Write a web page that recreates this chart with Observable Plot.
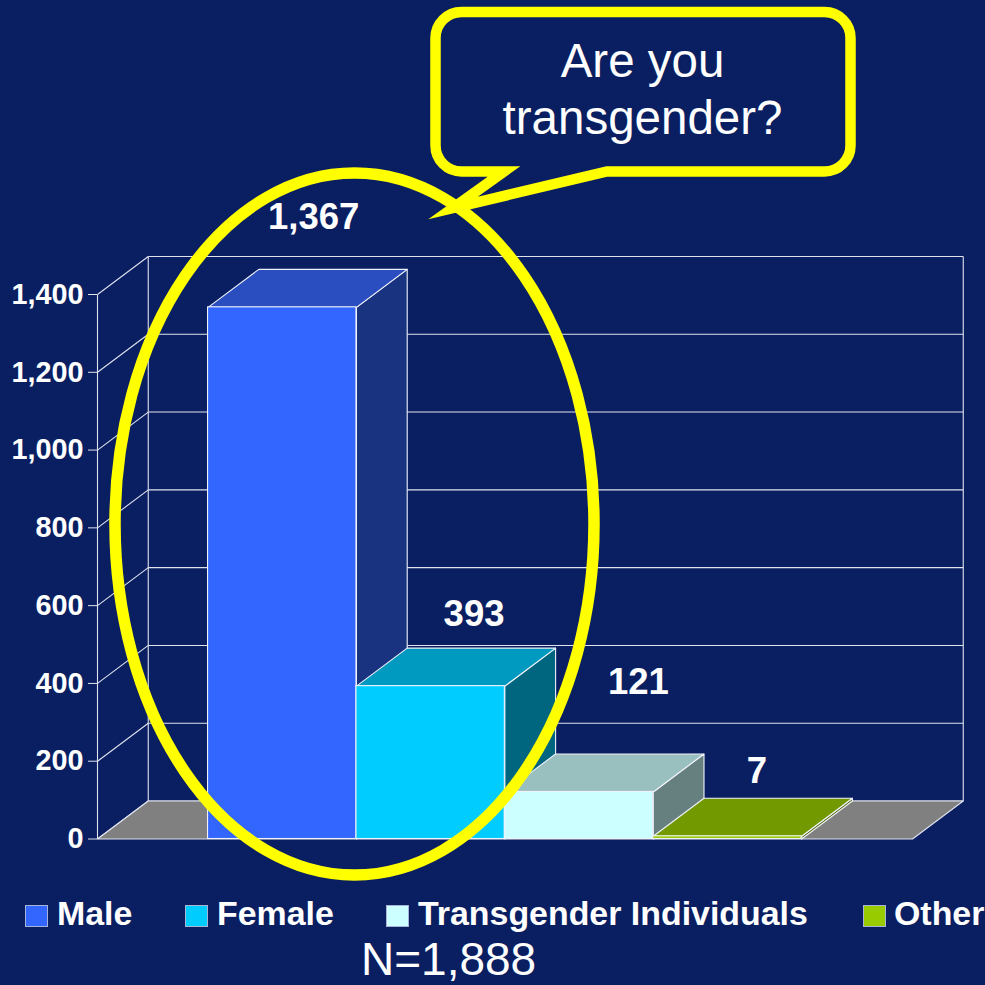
<!DOCTYPE html>
<html>
<head>
<meta charset="utf-8">
<script src="https://cdn.jsdelivr.net/npm/d3@7"></script>
<script src="https://cdn.jsdelivr.net/npm/@observablehq/plot@0.6"></script>
<style>
  html, body { margin: 0; padding: 0; background: #0A1F62; }
  #page { position: relative; width: 985px; height: 985px; overflow: hidden; background: #0A1F62; font-family: "Liberation Sans", Arial, sans-serif; color: #fff; }
  #chart svg { display: block; }
  .sw { position: absolute; top: 905px; width: 21px; height: 20px; border: 1px solid #aab4d6; }
  .lg { position: absolute; top: 894px; font-size: 33.9px; line-height: 39px; font-weight: bold; white-space: nowrap; }
  #n { position: absolute; left: 361px; top: 938.5px; font-size: 46px; line-height: 41px; white-space: nowrap; }
</style>
</head>
<body>
<div id="page"><div id="chart"></div></div>
<script>
// ---- data ----
const categories = ["Male", "Female", "Transgender Individuals", "Other"];
const counts = [1367, 393, 121, 7];
const yTicks = [0, 200, 400, 600, 800, 1000, 1200, 1400];

// ---- style & layout (not data) ----
const frontColors = ["#3366FF", "#00CCFF", "#CCFFFF", "#99CC00"];
const topColors = ["#2A4DBF", "#0099BF", "#99BFBF", "#739900"];
const sideColors = ["#1A3380", "#006680", "#668080", "#4D6600"];
const labelOffsets = [[6, -90], [18, -72], [34, -110], [4, -65]];
const legendX = [[25, 57], [185, 217], [386, 418], [863, 894]];
const edge = "#F0F2FA";
const grid = "#E0E3EE";

// the chart's oblique depth, in scale units
const floorWidth = 5.492, firstBar = 0.745, depthX = 0.342, depthY = 97.7;

const poly = (pts, fill, stroke = edge) =>
  Plot.line(pts.map(([x, y]) => ({x, y})), {x: "x", y: "y", fill, stroke, strokeWidth: 1.1, curve: "linear-closed"});

const bars = categories.map((name, i) => ({name, value: counts[i], x1: firstBar + i, x2: firstBar + i + 1, i}));

const barMarks = bars.flatMap(b => [
  poly([[b.x2, 0], [b.x2 + depthX, depthY], [b.x2 + depthX, b.value + depthY], [b.x2, b.value]], sideColors[b.i]),
  poly([[b.x1, b.value], [b.x1 + depthX, b.value + depthY], [b.x2 + depthX, b.value + depthY], [b.x2, b.value]], topColors[b.i]),
  Plot.rect([b], {x1: "x1", x2: "x2", y1: 0, y2: "value", fill: frontColors[b.i], stroke: edge, strokeWidth: 1.1})
]);

const labelMarks = bars.map(b => Plot.text([b], {
  x: d => (d.x1 + d.x2) / 2 + depthX / 2, y: "value",
  text: d => d3.format(",")(d.value),
  dx: labelOffsets[b.i][0], dy: labelOffsets[b.i][1],
  fill: "#fff", fontSize: 36.5, fontWeight: "bold", fontFamily: "Liberation Sans"
}));

// ellipse & speech bubble annotation
const annotation = () => {
  const g = d3.create("svg:g");
  g.append("path")
    .attr("d", "M461.5,12H824.5A26,26 0 0 1 850.5,38V145.5A26,26 0 0 1 824.5,171.5H607L453,208L504,171.5H461.5A26,26 0 0 1 435.5,145.5V38A26,26 0 0 1 461.5,12Z")
    .attr("fill", "#0A1F62").attr("stroke", "#FFFF00").attr("stroke-width", 10.5)
    .attr("stroke-miterlimit", 12);
  g.append("ellipse")
    .attr("cx", 354.5).attr("cy", 524).attr("rx", 239.5).attr("ry", 351)
    .attr("fill", "none").attr("stroke", "#FFFF00").attr("stroke-width", 11.5);
  for (const [t, y] of [["Are you", 76.5], ["transgender?", 133.5]]) {
    g.append("text").text(t).attr("x", 642.5).attr("y", y)
      .attr("text-anchor", "middle").attr("fill", "#fff")
      .attr("font-family", "Liberation Sans").attr("font-size", 47.5);
  }
  return g.node();
};

const chart = Plot.plot({
  width: 985, height: 890,
  marginLeft: 97, marginRight: 73, marginTop: 294, marginBottom: 51.5,
  style: {background: "transparent", overflow: "visible"},
  x: {domain: [0, floorWidth], axis: null},
  y: {domain: [0, 1400]},
  marks: [
    // left wall and back wall
    Plot.link(yTicks, {x1: 0, x2: depthX, y1: d => d, y2: d => d + depthY, stroke: grid, strokeWidth: 1.1}),
    Plot.link(yTicks, {x1: depthX, x2: floorWidth + depthX, y1: d => d + depthY, y2: d => d + depthY, stroke: grid, strokeWidth: 1.1}),
    Plot.link([0, depthX, floorWidth + depthX], {x1: d => d, x2: d => d, y1: d => (d === 0 ? 0 : depthY), y2: d => (d === 0 ? 1400 : 1400 + depthY), stroke: grid, strokeWidth: 1.1}),
    // floor
    poly([[0, 0], [depthX, depthY], [floorWidth + depthX, depthY], [floorWidth, 0]], "#808080", grid),
    ...barMarks,
    Plot.axisY({
      ticks: yTicks, tickFormat: d3.format(","), tickSize: 9, tickPadding: 5, label: null,
      fontSize: 28.8, fontWeight: "bold", fontFamily: "Liberation Sans", color: "#fff", stroke: grid
    }),
    ...labelMarks,
    annotation
  ]
});
document.getElementById("chart").append(chart);

// legend & caption, below the plot
const page = document.getElementById("page");
categories.forEach((name, i) => {
  const s = document.createElement("div");
  s.className = "sw"; s.style.left = legendX[i][0] + "px"; s.style.background = frontColors[i];
  const t = document.createElement("div");
  t.className = "lg"; t.style.left = legendX[i][1] + "px"; t.textContent = name;
  page.append(s, t);
});
const n = document.createElement("div");
n.id = "n"; n.textContent = "N=" + d3.format(",")(d3.sum(counts));
page.append(n);
</script>
</body>
</html>
